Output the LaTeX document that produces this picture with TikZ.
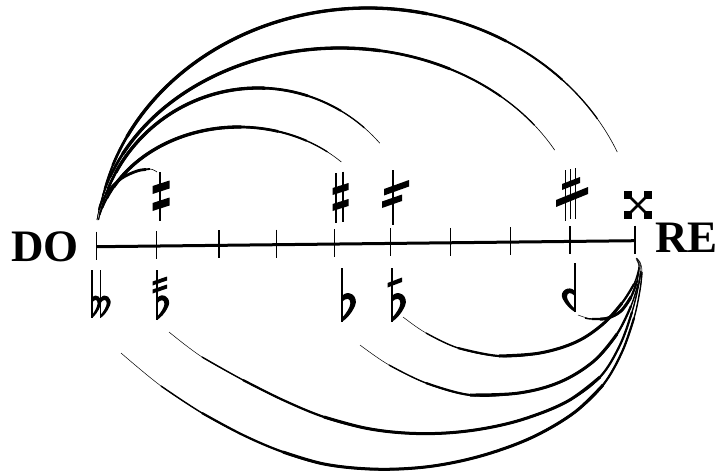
\documentclass[tikz,border=0pt]{standalone}
\usepackage{fontspec}
\setmainfont{Liberation Serif}
\usetikzlibrary{calc}
\tikzset{
  tickmark/.style={line width=1.1pt},
  stemline/.style={line width=1.9pt},
  axisline/.style={line width=3pt},
  lbl/.style={font=\fontsize{45}{45}\selectfont\bfseries, inner sep=0pt, anchor=base west},
}
% tapered elliptic arc: cx cy A B start end
\newcommand\uparc[6]{%
  \foreach \w/\fl/\fr in {0.6/0/0, 1.3/0.02/0.06, 2.0/0.05/0.14, 2.7/0.09/0.24, 3.3/0.14/0.36}{%
    \pgfmathsetmacro\aa{#5+(#6-(#5))*\fl}%
    \pgfmathsetmacro\bb{#6-(#6-(#5))*\fr}%
    \draw[line width=\w pt] ($(#1,#2)+(\aa:#3 and #4)$) arc[start angle=\aa, end angle=\bb, x radius=#3, y radius=#4];
  }%
}
% tapered smooth curve from 4 nested point lists
\newcommand\lowarc[4]{%
  \draw[line width=0.5pt] plot[smooth, tension=0.6] coordinates {#1};
  \draw[line width=1.4pt] plot[smooth, tension=0.6] coordinates {#2};
  \draw[line width=2.2pt] plot[smooth, tension=0.6] coordinates {#3};
  \draw[line width=3.0pt] plot[smooth, tension=0.6] coordinates {#4};
}
% flat bowl in unit box: stem at x=0, top y=0, bottom y=1
\newcommand\bowl{%
  \fill (0,0.05) .. controls (0.45,-0.25) and (1.25,0.05) .. (0.95,0.4)
        .. controls (0.7,0.7) and (0.3,0.9) .. (0,1) -- (0,0.86)
        .. controls (0.3,0.7) and (0.62,0.45) .. (0.62,0.3)
        .. controls (0.62,0.1) and (0.3,0.08) .. (0,0.28) -- cycle;
}
\begin{document}
\begin{tikzpicture}[x=1pt,y=-1pt]
\useasboundingbox (0,0) rectangle (720,475);

% labels
\node[lbl] (do) at (11,261) {DO};
\node[lbl] (re) at (655,252) {RE};

% axis and ticks
\coordinate (t0) at (96.7,246.7);
\coordinate (t1) at (156.7,246.0);
\coordinate (t2) at (219,245.3);
\coordinate (t3) at (276.7,244.7);
\coordinate (t4) at (334.3,244.0);
\coordinate (t5) at (390.7,243.4);
\coordinate (t6) at (450.7,242.8);
\coordinate (t7) at (510.3,242.1);
\coordinate (t8) at (570,241.4);
\coordinate (t9) at (635,240.7);
\draw[axisline] (t0) -- (t9);
\foreach \i in {0,...,9}{\draw[tickmark] ($(t\i)+(0,-15)$) -- ($(t\i)+(0,13)$);}

% upper arcs
\uparc{368}{245}{271}{237}{-173.9}{-23.1}
\uparc{340}{245}{245}{197}{-172.7}{-28.8}
\uparc{258}{250}{162}{162}{-169.3}{-41.3}
\uparc{239}{245}{144}{118}{-167.8}{-44.7}
\draw[line width=0.6pt] plot[smooth,tension=0.6] coordinates {(97,220) (101,203) (110,189) (122,178) (137,171) (150,169) (157,172)};
\draw[line width=1.8pt] plot[smooth,tension=0.6] coordinates {(99,210) (101,203) (110,189) (122,178) (137,171) (150,169)};
\draw[line width=2.8pt] plot[smooth,tension=0.6] coordinates {(106,194) (110,189) (122,178) (137,171) (146,169.5)};

% lower arcs
\lowarc{(121,353) (161,386) (202,413) (243,435) (283,452) (324,464) (370,469) (415,468) (456,462) (497,451) (537,435) (575,412) (603,385) (622,352) (634,318) (640,290) (642,272) (640,262) (636,258)}
{(161,386) (202,413) (243,435) (283,452) (324,464) (370,469) (415,468) (456,462) (497,451) (537,435) (575,412) (603,385) (622,352) (634,318) (640,290) (642,272)}
{(202,413) (243,435) (283,452) (324,464) (370,469) (415,468) (456,462) (497,451) (537,435) (575,412) (603,385) (622,352) (634,318)}
{(283,452) (324,464) (370,469) (415,468) (456,462) (497,451) (537,435) (575,412) (603,385)}
\lowarc{(169,332) (202,357) (243,380) (283,400) (324,417) (365,428) (405,433) (446,433) (487,428) (527,418) (568,401) (600,377) (620,345) (632,312) (638,288) (641,271) (639,261) (636,258)}
{(202,357) (243,380) (283,400) (324,417) (365,428) (405,433) (446,433) (487,428) (527,418) (568,401) (600,377) (620,345) (632,312) (638,288) (641,271)}
{(243,380) (283,400) (324,417) (365,428) (405,433) (446,433) (487,428) (527,418) (568,401) (600,377) (620,345) (632,312)}
{(324,417) (365,428) (405,433) (446,433) (487,428) (527,418) (568,401) (600,377)}
\lowarc{(360,345) (389,365) (426,383) (470,395) (519,393) (560,382) (594,361) (617,334) (631,306) (638,284) (640,268) (637,259)}
{(389,365) (426,383) (470,395) (519,393) (560,382) (594,361) (617,334) (631,306) (638,284)}
{(426,383) (470,395) (519,393) (560,382) (594,361) (617,334) (631,306)}
{(470,395) (519,393) (560,382) (594,361) (617,334)}
\lowarc{(403,317) (426,333) (458,348) (499,356) (540,353) (576,342) (603,324) (622,303) (634,284) (639,268) (637,259)}
{(426,333) (458,348) (499,356) (540,353) (576,342) (603,324) (622,303) (634,284) (639,268)}
{(458,348) (499,356) (540,353) (576,342) (603,324) (622,303) (634,284)}
{(499,356) (540,353) (576,342) (603,324) (622,303)}
\lowarc{(578,315) (592,319) (608,318) (621,311) (631,297) (637,281) (639,267) (636,259)}
{(585,318) (592,319) (608,318) (621,311) (631,297) (637,281) (639,267)}
{(592,319) (608,318) (621,311) (631,297) (637,281)}
{(600,319) (608,318) (621,311) (631,297)}

% upper accidentals
% half sharp
\draw[stemline] (160,172) -- (160,221);
\fill (152.5,186) -- (169.5,180.5) -- (169.5,188.5) -- (152.5,194) -- cycle;
\fill (152.5,203) -- (169.5,197.5) -- (169.5,205.5) -- (152.5,211) -- cycle;
% sharp
\draw[stemline] (336.3,173.3) -- (336.3,223.3);
\draw[stemline] (343.3,171.7) -- (343.3,221.7);
\fill (332.5,188) -- (348.5,183) -- (348.5,190) -- (332.5,195) -- cycle;
\fill (332.5,204) -- (348.5,199) -- (348.5,206) -- (332.5,211) -- cycle;
% one-stem slanted
\draw[stemline] (393.3,170) -- (393.3,225);
\fill (384,189) -- (409,180) -- (409,186.5) -- (384,195.5) -- cycle;
\fill (382,201.5) -- (402,194.5) -- (402,201) -- (382,208) -- cycle;
% three-stem sharp
\draw[stemline] (565.5,170) -- (565.5,221);
\draw[line width=1.2pt] (570.5,169) -- (570.5,219);
\draw[stemline] (575.5,168) -- (575.5,219);
\fill (562,184) -- (580,177) -- (580,183) -- (562,190) -- cycle;
\fill (556,200) -- (588,187) -- (588,194) -- (556,207) -- cycle;
% double sharp
\draw[line width=2.6pt] (629,196) -- (647,214) (647,196) -- (629,214);
\foreach \dx/\dy in {-1/-1,1/-1,-1/1,1/1}{
  \fill ($(638,205)+(\dx*10,\dy*10)+(-4,-4)$) rectangle ++(8,8);
}

% lower accidentals
% double flat
\draw[stemline] (92,270) -- (92,318);
\draw[stemline] (100.5,270) -- (100.5,318);
\begin{scope}[shift={(92,297)}, xscale=9, yscale=21]\bowl\end{scope}
\begin{scope}[shift={(100.5,297)}, xscale=10, yscale=21]\bowl\end{scope}
% flat with two slashes
\draw[stemline] (157,270) -- (157,320);
\fill (152.5,281.5) -- (167,276.5) -- (167,280.5) -- (152.5,285.5) -- cycle;
\fill (152.5,289.5) -- (167,284.5) -- (167,288.5) -- (152.5,293.5) -- cycle;
\begin{scope}[shift={(157,297)}, xscale=12, yscale=23]\bowl\end{scope}
% flat
\draw[stemline] (341.7,268) -- (341.7,322);
\begin{scope}[shift={(341.7,295)}, xscale=14, yscale=27]\bowl\end{scope}
% flat with one slash
\draw[stemline] (391.7,268) -- (391.7,322);
\fill (387.5,283) -- (402,277.5) -- (402,282) -- (387.5,287.5) -- cycle;
\begin{scope}[shift={(391.7,295)}, xscale=14, yscale=27]\bowl\end{scope}
% reversed flat
\draw[stemline] (575,263) -- (575,312);
\begin{scope}[shift={(575,290)}, xscale=-13, yscale=22]\bowl\end{scope}
\end{tikzpicture}
\end{document}
